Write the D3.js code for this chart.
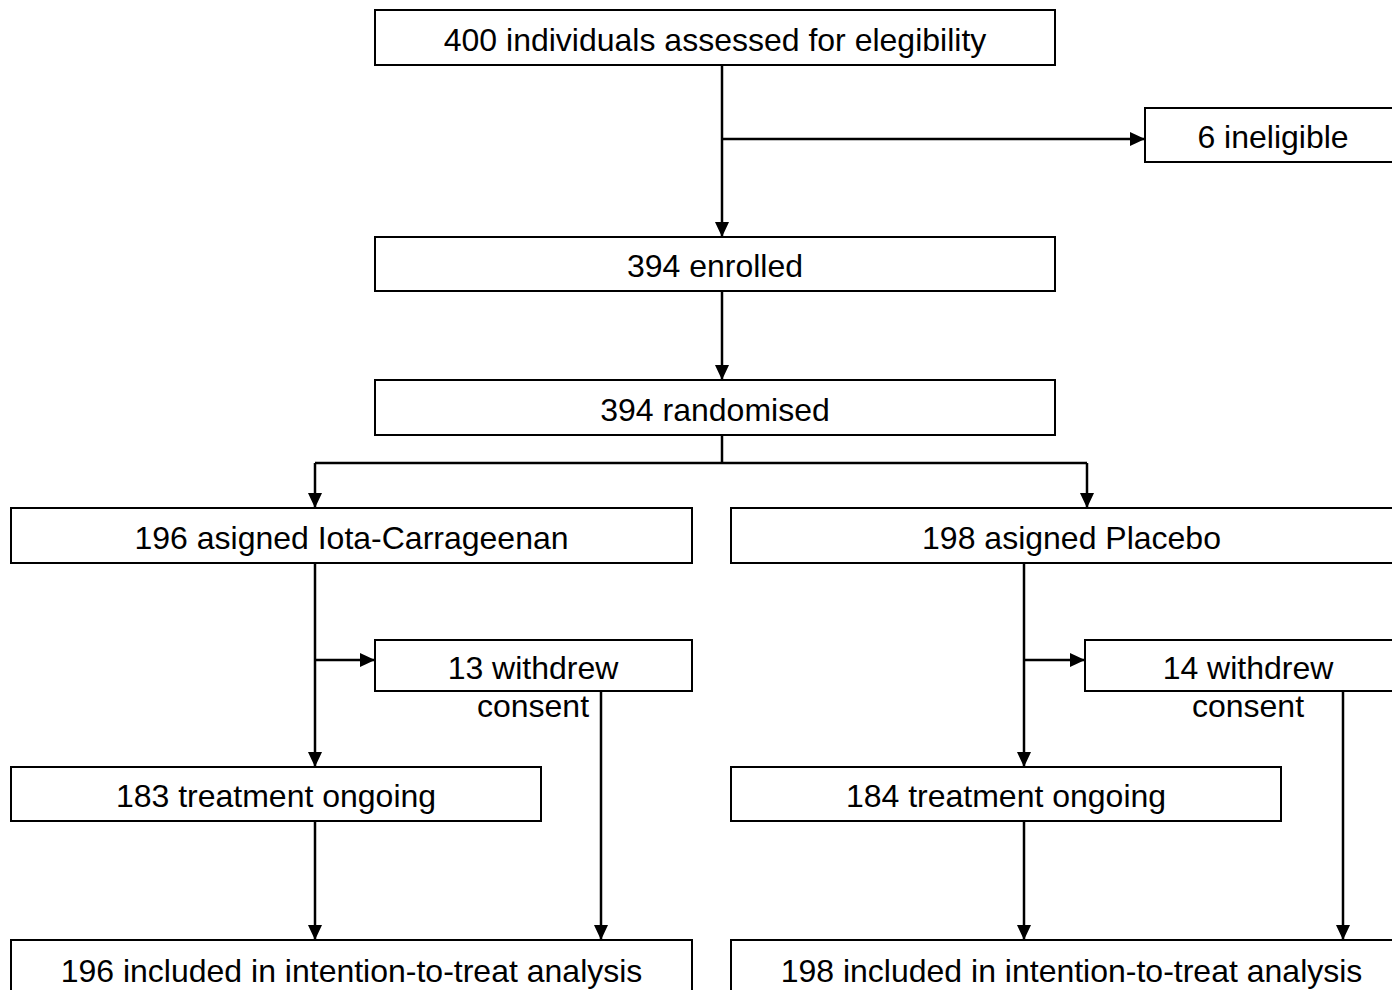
<!DOCTYPE html>
<html>
<head>
<meta charset="utf-8">
<script src="https://cdn.jsdelivr.net/npm/d3@7"></script>
<style>
  body { margin: 0; background: #fff; }
  svg { display: block; }
  text { font-family: "Liberation Sans", Arial, sans-serif; font-size: 32px; fill: #000; }
</style>
</head>
<body>
<svg></svg>
<script>
// flow counts
var screened = 400;
var ineligible = 6;
var enrolled = 394;
var randomised = 394;
var arms = ["Iota-Carrageenan", "Placebo"];
var assigned = [196, 198];
var withdrew = [13, 14];
var ongoing = [183, 184];
var itt = [196, 198];

var width = 1392, height = 990;
var svg = d3.select("svg").attr("width", width).attr("height", height);

// row tops and column lefts
var stages = ["screen", "inelig", "enrol", "random", "assign", "withdraw", "ongoing", "itt"];
var y = d3.scaleOrdinal().domain(stages).range([10, 108, 237, 380, 508, 640, 767, 940]);
var armX = d3.scaleOrdinal().domain(arms).range([11, 731]);
var withdrawX = d3.scaleOrdinal().domain(arms).range([375, 1085]);
var spineX = d3.scaleOrdinal().domain(arms).range([315, 1024]);
var dropX = d3.scaleOrdinal().domain(arms).range([601, 1343]);
var ongoingW = d3.scaleOrdinal().domain(arms).range([530, 550]);
var midX = 722;

svg.append("defs").append("marker")
    .attr("id", "arrow")
    .attr("markerUnits", "userSpaceOnUse")
    .attr("viewBox", "0 0 15 14")
    .attr("refX", 15)
    .attr("refY", 7)
    .attr("markerWidth", 15)
    .attr("markerHeight", 14)
    .attr("orient", "auto")
  .append("path")
    .attr("d", "M0,0L15,7L0,14Z")
    .attr("fill", "#000");

var boxes = [
  {x: 375, w: 680, y: y("screen"), h: 55, lines: [screened + " individuals assessed for elegibility"]},
  {x: 1145, w: 300, y: y("inelig"), h: 54, tx: 1273, lines: [ineligible + " ineligible"]},
  {x: 375, w: 680, y: y("enrol"), h: 54, lines: [enrolled + " enrolled"]},
  {x: 375, w: 680, y: y("random"), h: 55, lines: [randomised + " randomised"]}
];
arms.forEach(function(a, i) {
  var x0 = armX(a);
  boxes.push({x: x0, w: 681, y: y("assign"), h: 55, lines: [assigned[i] + " asigned " + a]});
  boxes.push({x: withdrawX(a), w: i ? 330 : 317, y: y("withdraw"), h: 51,
    tx: i ? 1248 : 533, lines: [withdrew[i] + " withdrew", "consent"]});
  boxes.push({x: x0, w: ongoingW(a), y: y("ongoing"), h: 54, lines: [ongoing[i] + " treatment ongoing"]});
  boxes.push({x: x0, w: 681, y: y("itt"), h: 70, lines: [itt[i] + " included in intention-to-treat analysis"], ty: 971});
});

svg.selectAll("rect.box")
  .data(boxes)
  .enter()
  .append("rect")
    .attr("class", "box")
    .attr("x", d => d.x)
    .attr("y", d => d.y)
    .attr("width", d => d.w)
    .attr("height", d => d.h)
    .attr("fill", "#fff")
    .attr("stroke", "#000")
    .attr("stroke-width", 2);

var lbl = svg.selectAll("text.lbl")
  .data(boxes)
  .enter()
  .append("text")
    .attr("class", "lbl")
    .attr("text-anchor", "middle")
    .attr("x", d => d.tx || d.x + d.w / 2)
    .attr("y", d => d.ty || d.y + d.h / 2 + 2);
lbl.selectAll("tspan")
  .data(d => d.lines.map((l, k) => ({l: l, k: k, x: d.tx || d.x + d.w / 2})))
  .enter()
  .append("tspan")
    .attr("x", d => d.x)
    .attr("dy", d => d.k ? "1.2em" : "0.35em")
    .text(d => d.l);

// connectors
var links = [
  {pts: [[midX, 65], [midX, y("enrol")]], arrow: true},
  {pts: [[midX, 139], [1145, 139]], arrow: true},
  {pts: [[midX, 291], [midX, y("random")]], arrow: true},
  {pts: [[midX, 435], [midX, 463]], arrow: false},
  {pts: [[spineX(arms[0]), 463], [1087, 463]], arrow: false}
];
arms.forEach(function(a, i) {
  var sx = spineX(a);
  links.push({pts: [[i ? 1087 : sx, 463], [i ? 1087 : sx, y("assign")]], arrow: true});
  links.push({pts: [[sx, 563], [sx, y("ongoing")]], arrow: true});
  links.push({pts: [[sx, 660], [withdrawX(a), 660]], arrow: true});
  links.push({pts: [[dropX(a), 691], [dropX(a), y("itt")]], arrow: true});
  links.push({pts: [[sx, 821], [sx, y("itt")]], arrow: true});
});

var line = d3.line();
svg.selectAll("path.link")
  .data(links)
  .enter()
  .append("path")
    .attr("class", "link")
    .attr("d", d => line(d.pts))
    .attr("fill", "none")
    .attr("stroke", "#000")
    .attr("stroke-width", 2.5)
    .attr("marker-end", d => d.arrow ? "url(#arrow)" : null);

// text for withdraw boxes overflows the box, keep on top
svg.selectAll("text.lbl").raise();
</script>
</body>
</html>
